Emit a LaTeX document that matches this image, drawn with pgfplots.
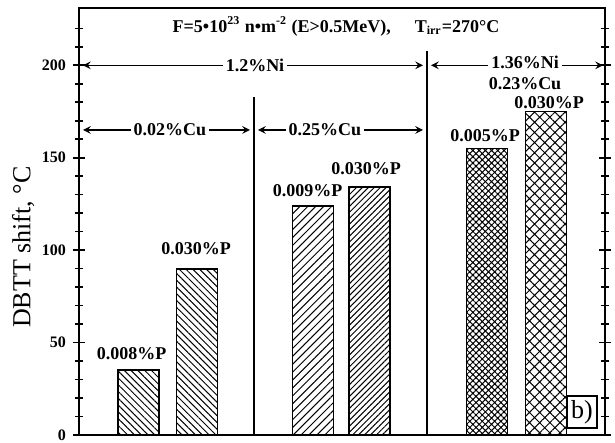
\documentclass[border=0pt]{standalone}
\usepackage{fontspec}
\setmainfont{Liberation Serif}
\usepackage{pgfplots}
\pgfplotsset{compat=1.18}
\usetikzlibrary{patterns.meta,calc}
\begin{document}
\begin{tikzpicture}
\begin{axis}[
  width=263pt, height=213.5pt, scale only axis,
  xmin=0, xmax=526, ymin=0, ymax=231,
  xtick=\empty,
  ytick={0,50,100,150,200},
  minor ytick={10,20,30,40,60,70,80,90,110,120,130,140,160,170,180,190,210,220},
  ytick pos=both,
  tick align=center,
  major tick length=6pt, minor tick length=4pt,
  every tick/.style={line width=0.8pt, black},
  yticklabel style={font=\bfseries\fontsize{8}{8}\selectfont},
  /pgf/number format/assume math mode=true,
  ylabel={DBTT shift, °C},
  ylabel style={font=\fontsize{13}{13}\selectfont, at={(axis description cs:-0.106,0.44)}, anchor=center, rotate=0},
  axis line style={line width=0.8pt},
  ybar, bar width=41, bar shift=0pt,
  clip=false,
  every axis plot/.append style={draw=black, line width=0.9pt},
]
% bars
\addplot[pattern={Lines[angle=-45,distance=2.4pt,line width=0.5pt]}] coordinates {(59.5,35)};
\addplot[pattern={Lines[angle=-45,distance=2.4pt,line width=0.5pt]}] coordinates {(118,90)};
\addplot[pattern={Lines[angle=45,distance=2.8pt,line width=0.5pt]}] coordinates {(234,124)};
\addplot[pattern={Lines[angle=45,distance=2.1pt,line width=0.5pt]}] coordinates {(290.5,134)};
\addplot[pattern={Hatch[angle=45,distance=2.2pt,line width=0.5pt]}] coordinates {(408,155)};
\addplot[pattern={Hatch[angle=45,distance=3.6pt,line width=0.5pt]}] coordinates {(467,175)};

% dividers
\draw[line width=0.8pt] (axis cs:175,0) -- (axis cs:175,183);
\draw[line width=0.8pt] (axis cs:348,0) -- (axis cs:348,207.5);

% arrows
\begin{scope}[font=\bfseries\fontsize{9}{9}\selectfont]
\draw[line width=0.7pt, <->, >=stealth] (axis cs:4,200) -- (axis cs:344,200);
\node[fill=white, inner sep=1.5pt] at (axis cs:176,200) {1.2\%Ni};
\draw[line width=0.7pt, <->, >=stealth] (axis cs:352,200) -- (axis cs:524,200);
\node[fill=white, inner sep=1.5pt] at (axis cs:446,201.5) {1.36\%Ni};
\node[fill=white, inner sep=1.5pt] at (axis cs:446,190) {0.23\%Cu};
\draw[line width=0.7pt, <->, >=stealth] (axis cs:4,165) -- (axis cs:171,165);
\node[fill=white, inner sep=1.5pt] at (axis cs:91,165) {0.02\%Cu};
\draw[line width=0.7pt, <->, >=stealth] (axis cs:179,165) -- (axis cs:344,165);
\node[fill=white, inner sep=1.5pt] at (axis cs:246,165) {0.25\%Cu};

\node at (axis cs:52.5,44) {0.008\%P};
\node at (axis cs:117,101) {0.030\%P};
\node at (axis cs:228.5,132) {0.009\%P};
\node at (axis cs:287,144) {0.030\%P};
\node at (axis cs:406,162) {0.005\%P};
\node at (axis cs:470,180) {0.030\%P};

\node at (axis cs:257,221) {F=5•10\textsuperscript{23} n•m\textsuperscript{-2} (E>0.5MeV),\hspace{12pt}T\textsubscript{irr}=270°C};
\end{scope}

\node[draw, line width=0.7pt, font=\fontsize{13}{13}\selectfont, inner sep=2pt, minimum height=16pt] at (axis cs:503,12.5) {b)};
\end{axis}
\pgfresetboundingbox
\path ($(current axis.south west)+(-39.5pt,-4pt)$) rectangle ($(current axis.north east)+(5pt,4pt)$);
\end{tikzpicture}
\end{document}
